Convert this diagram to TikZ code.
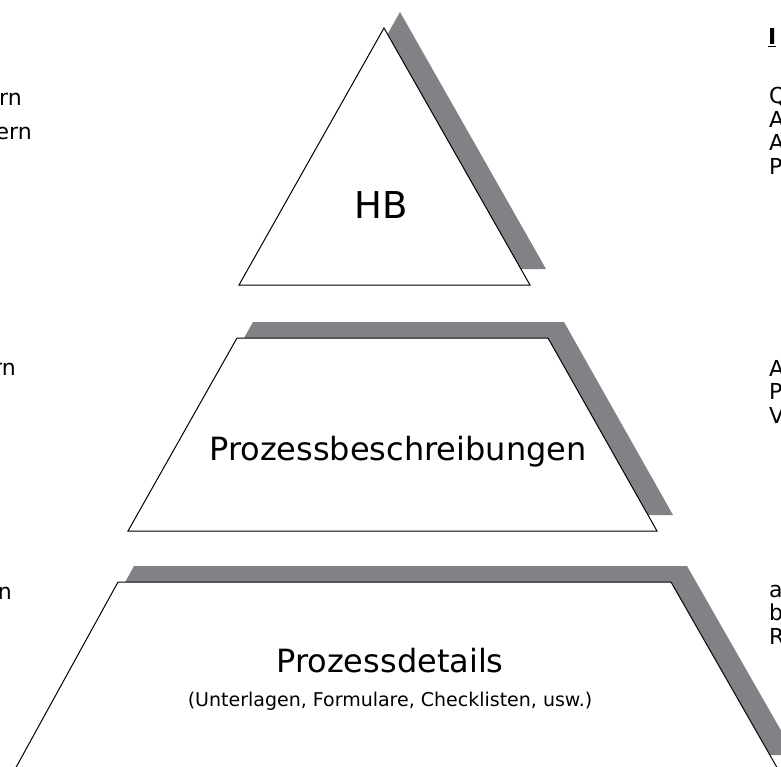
\documentclass[tikz,border=0pt]{standalone}
\usepackage{fontspec}
\setmainfont{DejaVu Sans}
\usetikzlibrary{positioning}
\definecolor{dropgray}{RGB}{128,130,133}

\begin{document}
\begin{tikzpicture}[x=1pt, y=-1pt,
			level/.style = {draw=black, line width=1pt, fill=white},
			drop/.style = {fill=dropgray, draw=none, shift={(16,-16)}},
			title/.style = {inner sep=0pt, anchor=base, font=\fontsize{32}{38}\selectfont},
			margin/.style = {inner sep=0pt, font=\fontsize{22}{23.5}\selectfont},
		]
		\useasboundingbox (0,0) rectangle (781,767);

		% shadows
		\fill[drop] (384,28) -- (530,285) -- (239,285) -- cycle;
		\fill[drop] (237,338) -- (548,338) -- (657,531) -- (128,531) -- cycle;
		\fill[drop] (118,582) -- (671,582) -- (779,771) -- (14,771) -- cycle;

		% levels
		\draw[level] (384,28) -- (530,285) -- (239,285) -- cycle;
		\draw[level] (237,338) -- (548,338) -- (657,531) -- (128,531) -- cycle;
		\draw[level] (118,582) -- (671,582) -- (779,771) -- (14,771) -- cycle;

		\node[title, font=\fontsize{37}{44}\selectfont](hb) at (381,219){HB};
		\node[title](beschr) at (398,460){Prozessbeschreibungen};
		\node[title](details) at (390,672){Prozessdetails};
		\node[inner sep=0pt, font=\fontsize{19}{22}\selectfont, below=19pt of details](sub){(Unterlagen, Formulare, Checklisten, usw.)};

		% cut texts, left
		\node[margin, anchor=base east](l1) at (22,106){rn};
		\node[margin, anchor=base east](l2) at (32,140){ern};
		\node[margin, anchor=base east](l3) at (16,375){rn};
		\node[margin, anchor=base east](l4) at (12,599){n};

		% cut texts, right
		\node[margin, anchor=base west, font={\fontsize{22}{23.5}\selectfont\bfseries}](r0) at (768,45){\underline{I}};
		\node[margin, anchor=base west](r1) at (769,104){Q};
		\node[margin, anchor=base west](r2) at (769,127.5){A};
		\node[margin, anchor=base west](r3) at (769,151){A};
		\node[margin, anchor=base west](r4) at (769,174.5){P};
		\node[margin, anchor=base west](r5) at (769,376){A};
		\node[margin, anchor=base west](r6) at (769,399.5){P};
		\node[margin, anchor=base west](r7) at (769,423){V};
		\node[margin, anchor=base west](r8) at (769,597){a};
		\node[margin, anchor=base west](r9) at (769,620.5){b};
		\node[margin, anchor=base west](r10) at (769,644){R};

	\end{tikzpicture}
\end{document}
